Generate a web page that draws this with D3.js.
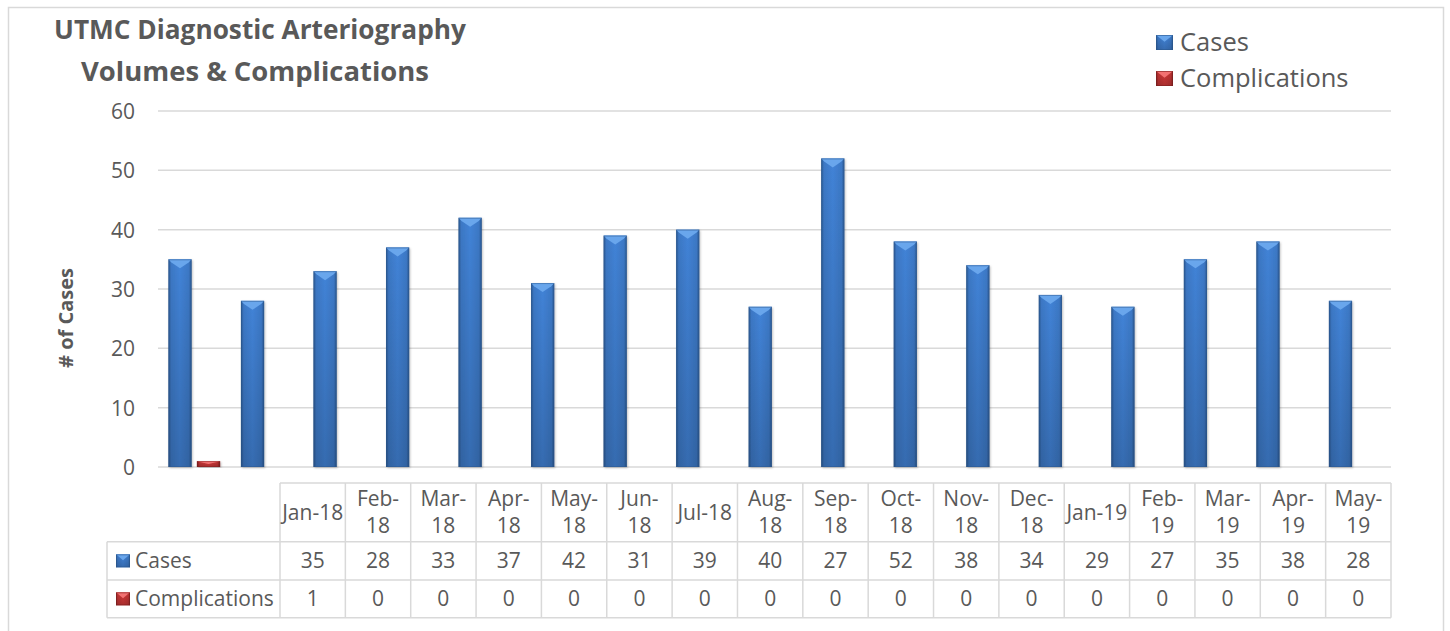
<!DOCTYPE html>
<html>
<head>
<meta charset="utf-8">
<script src="https://cdn.jsdelivr.net/npm/d3@7"></script>
<style>
  html, body { margin: 0; padding: 0; background: #fff; }
  svg { display: block; font-family: "Open Sans", "Noto Sans", sans-serif; }
</style>
</head>
<body>
<svg id="chart" width="1450" height="631"></svg>
<script>
const months = ["Jan-18","Feb-18","Mar-18","Apr-18","May-18","Jun-18","Jul-18","Aug-18","Sep-18","Oct-18","Nov-18","Dec-18","Jan-19","Feb-19","Mar-19","Apr-19","May-19"];
// header labels as laid out in the table (line breaks as shown)
const headerLabels = [["Jan-18"],["Feb-","18"],["Mar-","18"],["Apr-","18"],["May-","18"],["Jun-","18"],["Jul-18"],["Aug-","18"],["Sep-","18"],["Oct-","18"],["Nov-","18"],["Dec-","18"],["Jan-19"],["Feb-","19"],["Mar-","19"],["Apr-","19"],["May-","19"]];
const cases = [35,28,33,37,42,31,39,40,27,52,38,34,29,27,35,38,28];
const complications = [1,0,0,0,0,0,0,0,0,0,0,0,0,0,0,0,0];
const seriesNames = ["Cases","Complications"];
const yTicks = [0,10,20,30,40,50,60];
const titleLines = ["UTMC Diagnostic Arteriography","Volumes & Complications"];
const yTitle = "# of Cases";

const svg = d3.select("#chart");
const textColor = "#595959";
const gridColor = "#d9d9d9";

// outer border
svg.append("rect").attr("x", 8.5).attr("y", 7.5).attr("width", 1435).attr("height", 660)
  .attr("fill", "none").attr("stroke", gridColor).attr("stroke-width", 1.5);

// gradients
const defs = svg.append("defs");
function hGrad(id, edge, mid) {
  const g = defs.append("linearGradient").attr("id", id).attr("x1","0").attr("x2","1").attr("y1","0").attr("y2","0");
  [[0, edge],[0.12, mid],[0.5, d3.color(mid).brighter(0.25).formatHex()],[0.88, mid],[1, edge]].forEach(([o,c]) =>
    g.append("stop").attr("offset", o).attr("stop-color", c));
}
hGrad("gBlue", "#2b5890", "#3c78c5");
hGrad("gRed", "#7e1f1f", "#bf3434");
const vShade = defs.append("linearGradient").attr("id","vShade").attr("x1","0").attr("x2","0").attr("y1","0").attr("y2","1");
vShade.append("stop").attr("offset",0).attr("stop-color","#000").attr("stop-opacity",0);
vShade.append("stop").attr("offset",1).attr("stop-color","#000").attr("stop-opacity",0.18);
const colors = {
  Cases: {fill: "url(#gBlue)", bevel: "#69a6ec", edge: "#2b5890"},
  Complications: {fill: "url(#gRed)", bevel: "#f27272", edge: "#7e1f1f"}
};
const shadow = defs.append("filter").attr("id","shadow").attr("x","-20%").attr("y","-5%").attr("width","140%").attr("height","110%");
shadow.append("feDropShadow").attr("dx",1).attr("dy",1).attr("stdDeviation",1.2).attr("flood-color","#000").attr("flood-opacity",0.25);

// scales
const x0 = d3.scaleBand().domain(months).range([158, 1391]).paddingInner(0).paddingOuter(0);
const step = x0.step();
const groupW = step * 0.713;
const x1 = d3.scaleBand().domain(seriesNames).range([(step - groupW)/2, (step + groupW)/2]).paddingInner(0.186).paddingOuter(0);
const y = d3.scaleLinear().domain([0, 60]).range([467, 111]);

// gridlines
svg.append("g").selectAll("line").data(yTicks).join("line")
  .attr("x1", 158).attr("x2", 1391)
  .attr("y1", d => y(d)).attr("y2", d => y(d))
  .attr("stroke", gridColor).attr("stroke-width", 1.5);

// y axis labels
const yAxis = d3.axisLeft(y).tickValues(yTicks).tickSize(0).tickPadding(0);
const gy = svg.append("g").attr("transform", "translate(135,0)").call(yAxis);
gy.select(".domain").remove();
gy.selectAll("text").attr("font-size", 21).attr("fill", textColor)
  .attr("font-family", "Open Sans").attr("dy", "0.36em");

// y title
svg.append("text").attr("transform", "translate(73,318) rotate(-90)")
  .attr("text-anchor", "middle").attr("font-weight", "bold").attr("font-size", 20)
  .attr("fill", textColor).text(yTitle);

// bars
const data = months.map((m, i) => ({month: m, values: [{s: "Cases", v: cases[i]}, {s: "Complications", v: complications[i]}]}));
const groups = svg.append("g").selectAll("g").data(data).join("g")
  .attr("transform", d => `translate(${x0(d.month)},0)`);
function drawBar(sel) {
  sel.each(function(d) {
    if (d.v <= 0) return;
    const g = d3.select(this);
    const bx = x1(d.s), bw = x1.bandwidth();
    const top = y(d.v), h = y(0) - y(d.v);
    const c = colors[d.s];
    g.append("rect").attr("x", bx).attr("y", top).attr("width", bw).attr("height", h)
      .attr("fill", c.fill).attr("filter", "url(#shadow)");
    g.append("rect").attr("x", bx).attr("y", top).attr("width", bw).attr("height", h)
      .attr("fill", "url(#vShade)");
    const bd = Math.min(9, h / 2);
    g.append("path").attr("d", `M${bx},${top}L${bx + bw},${top}L${bx + bw - 3},${top + bd * 0.35}L${bx + bw/2},${top + bd}L${bx + 3},${top + bd * 0.35}Z`)
      .attr("fill", c.bevel);
    g.append("rect").attr("x", bx + 0.5).attr("y", top + 0.5).attr("width", bw - 1).attr("height", h - 1)
      .attr("fill", "none").attr("stroke", c.edge).attr("stroke-opacity", 0.5).attr("stroke-width", 1);
  });
}
groups.selectAll("g.bar").data(d => d.values).join("g").attr("class", "bar").call(drawBar);

// legend key drawer
function key(g, s, x, yy, w, h) {
  const c = colors[s];
  g.append("rect").attr("x", x).attr("y", yy).attr("width", w).attr("height", h).attr("fill", c.fill);
  g.append("rect").attr("x", x).attr("y", yy).attr("width", w).attr("height", h).attr("fill", "url(#vShade)");
  g.append("path").attr("d", `M${x},${yy}L${x + w},${yy}L${x + w/2},${yy + h*0.45}Z`).attr("fill", c.bevel);
  g.append("rect").attr("x", x + 0.5).attr("y", yy + 0.5).attr("width", w - 1).attr("height", h - 1)
    .attr("fill", "none").attr("stroke", c.edge).attr("stroke-opacity", 0.6);
}

// top legend
const leg = svg.append("g");
seriesNames.forEach((s, i) => {
  key(leg, s, 1156, 35 + i * 36, 17, 15);
  leg.append("text").attr("x", 1180).attr("y", 51 + i * 36).attr("font-size", 25.5)
    .attr("fill", textColor).text(s);
});

// title (fit each line to the reference width)
function fitText(sel, target) {
  const node = sel.node();
  const fs = +sel.attr("font-size");
  const w = node.getComputedTextLength();
  if (w > 0) sel.attr("font-size", (fs * target / w).toFixed(2));
}
const t1 = svg.append("text").attr("x", 260).attr("y", 39).attr("text-anchor", "middle")
  .attr("font-weight", "bold").attr("font-size", 26).attr("fill", textColor).text(titleLines[0]);
const t2 = svg.append("text").attr("x", 255).attr("y", 81).attr("text-anchor", "middle")
  .attr("font-weight", "bold").attr("font-size", 26).attr("fill", textColor).text(titleLines[1]);
fitText(t1, 412);
fitText(t2, 348);

// data table
const xt = d3.scaleBand().domain(months).range([280, 1391]).padding(0);
const rowTop = 483, hdrBot = 541.7, r1Bot = 580, r2Bot = 617.7;
const tbl = svg.append("g");
const bc = gridColor;
tbl.append("line").attr("x1", 280).attr("x2", 1391).attr("y1", rowTop).attr("y2", rowTop).attr("stroke", bc).attr("stroke-width", 1.5);
[hdrBot, r1Bot, r2Bot].forEach(yy =>
  tbl.append("line").attr("x1", 107).attr("x2", 1391).attr("y1", yy).attr("y2", yy).attr("stroke", bc).attr("stroke-width", 1.5));
tbl.selectAll("line.v").data(months).join("line").attr("class", "v")
  .attr("x1", d => xt(d)).attr("x2", d => xt(d)).attr("y1", rowTop).attr("y2", r2Bot)
  .attr("stroke", bc).attr("stroke-width", 1.5);
tbl.append("line").attr("x1", 1391).attr("x2", 1391).attr("y1", rowTop).attr("y2", r2Bot).attr("stroke", bc).attr("stroke-width", 1.5);
tbl.append("line").attr("x1", 107).attr("x2", 107).attr("y1", hdrBot).attr("y2", r2Bot).attr("stroke", bc).attr("stroke-width", 1.5);

// header labels
tbl.selectAll("text.h").data(months).join("text").attr("class", "h")
  .attr("text-anchor", "middle").attr("font-size", 21).attr("fill", textColor)
  .each(function(d, i) {
    const t = d3.select(this);
    const cx = xt(d) + xt.bandwidth()/2;
    const lines = headerLabels[i];
    const ys = lines.length === 1 ? [520] : [506, 533];
    lines.forEach((ln, j) => t.append("tspan").attr("x", cx).attr("y", ys[j]).text(ln));
  });

// value rows
const rows = [{s: "Cases", vals: cases, cy: (hdrBot + r1Bot)/2}, {s: "Complications", vals: complications, cy: (r1Bot + r2Bot)/2}];
rows.forEach(r => {
  key(tbl, r.s, 116, r.cy - 6.5, 14, 13);
  tbl.append("text").attr("x", 135).attr("y", r.cy).attr("dy", "0.36em").attr("font-size", 21)
    .attr("fill", textColor).text(r.s);
  tbl.selectAll(null).data(r.vals).join("text")
    .attr("x", (d, i) => xt(months[i]) + xt.bandwidth()/2).attr("y", r.cy).attr("dy", "0.36em")
    .attr("text-anchor", "middle").attr("font-size", 21).attr("fill", textColor).text(d => d);
});
</script>
</body>
</html>
